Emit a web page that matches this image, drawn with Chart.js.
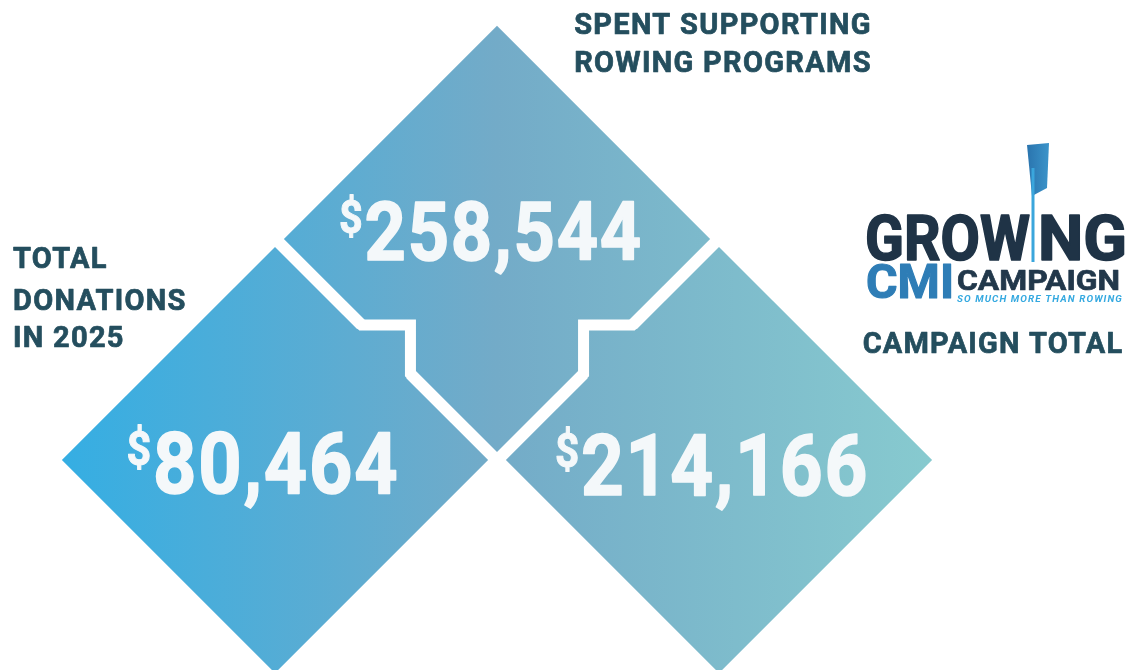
<!DOCTYPE html>
<html>
<head>
<meta charset="utf-8">
<title>Growing CMI Campaign</title>
<script src="https://cdn.jsdelivr.net/npm/chart.js@4.4.1/dist/chart.umd.min.js"></script>
<style>
  html, body { margin: 0; padding: 0; background: #fff; }
  canvas { display: block; }
</style>
</head>
<body>
<canvas id="chart" width="1127" height="670"></canvas>
<script>
// figures
const categories = ["Total donations in 2025", "Spent supporting rowing programs", "Campaign total"];
const amounts = [80464, 258544, 214166];
const captionLines = [
  ["TOTAL", "DONATIONS", "IN 2025"],
  ["SPENT SUPPORTING", "ROWING PROGRAMS"],
  ["CAMPAIGN TOTAL"],
];

// layout: lattice cell of each diamond and nudges for its figure
const slots = [
  { col: 0, row: 1, size: 86, dx: -12, dy: 33 },
  { col: 1, row: 0, size: 82, dx: -6, dy: 21 },
  { col: 2, row: 1, size: 85, dx: -7, dy: 35 },
];
// caption placement (pixels)
const captionPos = [
  { x: 13, align: "left", size: 29, spacing: 1.3, base: [268, 310, 347] },
  { x: 723, align: "center", size: 29, spacing: 1.3, base: [33.5, 72] },
  { x: 993, align: "center", size: 29, spacing: 1.2, base: [353] },
];

const INK = "#244e5e";
const SQUEEZE = 0.88;

const diamondRadius = (chart) => {
  const xs = chart.scales.x;
  const r = xs ? (xs.getPixelForValue(1) - xs.getPixelForValue(0)) * 0.96 : NaN;
  return isFinite(r) ? r : 0;
};

const diamondFill = (chart) => {
  const xs = chart.scales.x;
  const r = diamondRadius(chart);
  if (!xs || !r) return "#73abc8";
  const x0 = xs.getPixelForValue(0) - r, x1 = xs.getPixelForValue(2) + r;
  if (!isFinite(x0) || !isFinite(x1)) return "#73abc8";
  const g = chart.ctx.createLinearGradient(x0, 0, x1, 0);
  g.addColorStop(0, "#35aee3");
  g.addColorStop(0.5, "#73abc8");
  g.addColorStop(1, "#87cacf");
  return g;
};

// white step-shaped seams between the lower diamonds and the top one
const seams = {
  id: "seams",
  afterDatasetsDraw(chart) {
    const ctx = chart.ctx;
    const pts = chart.getDatasetMeta(0).data;
    const fill = diamondFill(chart);
    [[pts[0], pts[1]], [pts[2], pts[1]]].forEach(([lower, upper]) => {
      const mx = (lower.x + upper.x) / 2, my = (lower.y + upper.y) / 2;
      let ex = -(upper.y - lower.y), ey = upper.x - lower.x;
      const len = Math.hypot(ex, ey);
      ex /= len; ey /= len;
      const nx = -ey, ny = ex;
      const k = 24.5 * Math.SQRT2;
      const a = { x: mx - ex * k, y: my - ey * k };
      const b = { x: mx + ex * k, y: my + ey * k };
      const low = a.y > b.y ? a : b;
      const corner = { x: low.x, y: Math.min(a.y, b.y) };

      // close the straight gap where the step replaces it
      ctx.save();
      ctx.fillStyle = fill;
      ctx.beginPath();
      ctx.moveTo(a.x + nx * 9, a.y + ny * 9);
      ctx.lineTo(b.x + nx * 9, b.y + ny * 9);
      ctx.lineTo(b.x - nx * 9, b.y - ny * 9);
      ctx.lineTo(a.x - nx * 9, a.y - ny * 9);
      ctx.closePath();
      ctx.fill();

      ctx.strokeStyle = "#ffffff";
      ctx.lineWidth = 11;
      ctx.lineJoin = "miter";
      ctx.beginPath();
      ctx.moveTo(a.x - ex * 15, a.y - ey * 15);
      ctx.lineTo(a.x, a.y);
      ctx.lineTo(corner.x, corner.y);
      ctx.lineTo(b.x, b.y);
      ctx.lineTo(b.x + ex * 15, b.y + ey * 15);
      ctx.stroke();
      ctx.restore();
    });
  },
};

// fill plus a thin outline of the same colour, for a heavier face
function heavyText(ctx, text, x, y, weight) {
  ctx.fillText(text, x, y);
  ctx.lineWidth = weight;
  ctx.lineJoin = "round";
  ctx.strokeText(text, x, y);
}

const valueLabels = {
  id: "valueLabels",
  afterDatasetsDraw(chart) {
    const ctx = chart.ctx;
    chart.getDatasetMeta(0).data.forEach((pt, i) => {
      const s = slots[i];
      const num = amounts[i].toLocaleString("en-US");
      const dsize = Math.round(s.size * 0.57);
      ctx.save();
      ctx.fillStyle = "#f4f8fa";
      ctx.strokeStyle = "#f4f8fa";
      ctx.textAlign = "left";
      ctx.textBaseline = "alphabetic";
      ctx.letterSpacing = "2px";
      ctx.font = "bold " + s.size + "px Roboto";
      const numW = ctx.measureText(num).width * SQUEEZE;
      ctx.font = "bold " + dsize + "px Roboto";
      const dolW = ctx.measureText("$").width * SQUEEZE;
      const x = pt.x + s.dx - (numW + dolW) / 2;
      const base = pt.y + s.dy;
      const capTop = base - 0.711 * s.size;

      ctx.save();
      ctx.translate(x, capTop - 9 + 0.86 * dsize);
      ctx.scale(SQUEEZE, 1);
      heavyText(ctx, "$", 0, 0, 1);
      ctx.restore();

      ctx.font = "bold " + s.size + "px Roboto";
      ctx.translate(x + dolW, base);
      ctx.scale(SQUEEZE, 1);
      heavyText(ctx, num, 0, 0, 1.6);
      ctx.restore();
    });
  },
};

const captions = {
  id: "captions",
  afterDraw(chart) {
    const ctx = chart.ctx;
    captionLines.forEach((lines, i) => {
      const p = captionPos[i];
      ctx.save();
      ctx.fillStyle = INK;
      ctx.strokeStyle = INK;
      ctx.font = "bold " + p.size + "px Roboto";
      ctx.letterSpacing = p.spacing + "px";
      ctx.textAlign = p.align;
      ctx.textBaseline = "alphabetic";
      lines.forEach((t, j) => heavyText(ctx, t, p.x, p.base[j], 0.7));
      ctx.restore();
    });
  },
};

// text stretched to a given ink width
function fitText(ctx, text, x, y, w, font, fill, weight) {
  ctx.save();
  ctx.font = font;
  const m = ctx.measureText(text).width;
  ctx.translate(x, y);
  ctx.scale(w / m, 1);
  ctx.fillStyle = fill;
  ctx.strokeStyle = fill;
  if (weight) heavyText(ctx, text, 0, 0, weight);
  else ctx.fillText(text, 0, 0);
  ctx.restore();
}

const logo = {
  id: "logo",
  afterDraw(chart) {
    const ctx = chart.ctx;
    ctx.save();
    ctx.textAlign = "left";
    ctx.textBaseline = "alphabetic";

    const grow = ctx.createLinearGradient(867, 0, 1028, 0);
    grow.addColorStop(0, "#1f3346");
    grow.addColorStop(0.42, "#203a52");
    grow.addColorStop(0.58, "#2f95d1");
    grow.addColorStop(1, "#37abe3");
    fitText(ctx, "GROW", 865, 260, 165, "bold 63px Roboto", grow, 1.6);
    fitText(ctx, "NG", 1038, 260, 89, "bold 63px Roboto", "#1f3346", 1.6);

    const cmi = ctx.createLinearGradient(867, 0, 953, 0);
    cmi.addColorStop(0, "#2e7db6");
    cmi.addColorStop(1, "#37abe3");
    fitText(ctx, "CMI", 866, 298, 88, "bold 49px Roboto", cmi, 1.2);
    fitText(ctx, "CAMPAIGN", 957, 290, 163, "bold 28px Roboto", "#22384b", 0.7);
    ctx.letterSpacing = "1px";
    fitText(ctx, "SO MUCH MORE THAN ROWING", 957, 302, 166, "italic bold 9px Roboto", "#35a9e0");
    ctx.letterSpacing = "0px";

    // oar standing in for the I
    const blade = ctx.createLinearGradient(1027, 0, 1049, 0);
    blade.addColorStop(0, "#2a74ae");
    blade.addColorStop(1, "#3b94ca");
    ctx.fillStyle = blade;
    ctx.beginPath();
    ctx.moveTo(1027, 145);
    ctx.lineTo(1049, 143);
    ctx.lineTo(1047, 188);
    ctx.lineTo(1032, 196);
    ctx.closePath();
    ctx.fill();
    ctx.fillStyle = "#3aa6dc";
    ctx.fillRect(1031.5, 168, 3, 94);
    ctx.restore();
  },
};

function build() {
  new Chart(document.getElementById("chart"), {
    type: "scatter",
    data: {
      labels: categories,
      datasets: [{
        label: "Amount (USD)",
        data: slots.map((s, i) => ({ x: s.col, y: s.row, v: amounts[i] })),
        pointStyle: "rectRot",
        pointRadius: (c) => diamondRadius(c.chart),
        pointHoverRadius: (c) => diamondRadius(c.chart),
        backgroundColor: (c) => diamondFill(c.chart),
        borderWidth: 0,
        hoverBorderWidth: 0,
      }],
    },
    options: {
      responsive: false,
      animation: false,
      events: [],
      layout: { padding: 0, autoPadding: false },
      plugins: { legend: { display: false }, tooltip: { enabled: false } },
      scales: {
        x: { type: "linear", display: false, min: -1.2387, max: 3.8378 },
        y: { type: "linear", display: false, reverse: true, min: -1.0814, max: 1.9502 },
      },
    },
    plugins: [seams, valueLabels, captions, logo],
  });
}

Promise.all([
  document.fonts.load("bold 84px Roboto"),
  document.fonts.load("italic bold 9px Roboto"),
]).then(build, build);
</script>
</body>
</html>
